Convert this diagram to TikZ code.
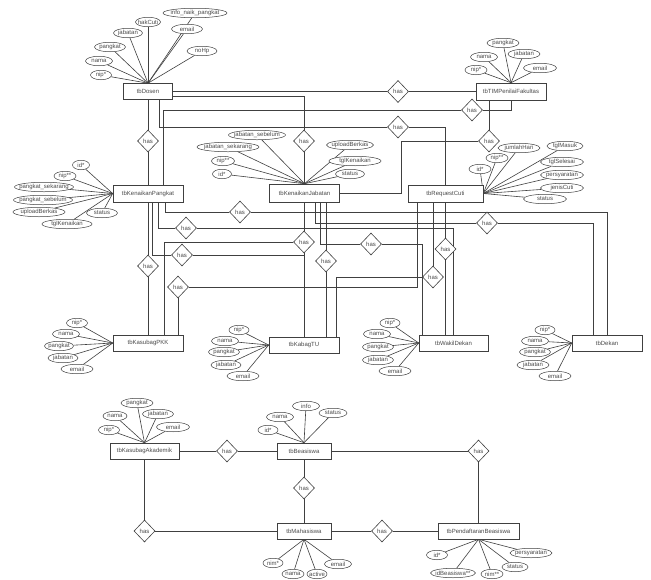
\documentclass[tikz,border=0pt]{standalone}
\usepackage{fontspec}
\setmainfont{Liberation Sans}
\usetikzlibrary{shapes.geometric}
\pgfdeclarelayer{background}
\pgfsetlayers{background,main}
\definecolor{lc}{HTML}{404040}
\definecolor{tc}{HTML}{4A4A4A}
\begin{document}
\begin{tikzpicture}[x=1pt,y=-1pt,
  every node/.style={font=\fontsize{6}{7}\selectfont, text=tc},
  ent/.style={rectangle, draw=lc, line width=0.6pt, inner sep=0pt, fill=white},
  rel/.style={diamond, draw=lc, line width=0.6pt, inner sep=0pt, minimum width=21pt, minimum height=22pt, fill=white},
  attr/.style={ellipse, draw=lc, line width=0.5pt, inner ysep=0pt, inner xsep=-4pt, minimum height=9.5pt, fill=white},
  ln/.style={draw=lc, line width=0.6pt}]
\useasboundingbox (0,0) rectangle (651,579);

% ---------- entities ----------
\node[ent, minimum width=49pt, minimum height=16pt] (tbDosen) at (148,91.5) {tbDosen};
\node[ent, minimum width=70pt, minimum height=17pt] (tbTIM) at (511,91.5) {tbTIMPenilaiFakultas};
\node[ent, minimum width=70pt, minimum height=17pt] (tbKP) at (148,193.5) {tbKenaikanPangkat};
\node[ent, minimum width=70pt, minimum height=18pt] (tbKJ) at (304.5,193) {tbKenaikanJabatan};
\node[ent, minimum width=75pt, minimum height=17pt] (tbRC) at (445.5,193.5) {tbRequestCuti};
\node[ent, minimum width=70pt, minimum height=16pt] (tbPKK) at (148,343) {tbKasubagPKK};
\node[ent, minimum width=70pt, minimum height=16pt] (tbTU) at (304,345) {tbKabagTU};
\node[ent, minimum width=69pt, minimum height=16pt] (tbWD) at (453.5,343) {tbWakilDekan};
\node[ent, minimum width=70pt, minimum height=16pt] (tbDK) at (607,343) {tbDekan};
\node[ent, minimum width=69pt, minimum height=16pt] (tbAK) at (144.5,451) {tbKasubagAkademik};
\node[ent, minimum width=54pt, minimum height=16pt] (tbBS) at (304,451) {tbBeasiswa};
\node[ent, minimum width=54pt, minimum height=16pt] (tbMH) at (304,531) {tbMahasiswa};
\node[ent, minimum width=81pt, minimum height=16pt] (tbPB) at (478.5,531) {tbPendaftaranBeasiswa};

% ---------- relationships ----------
\node[rel] (r1) at (148,141) {has};
\node[rel] (r2) at (398,91.5) {has};
\node[rel] (r3) at (304,141) {has};
\node[rel] (r4) at (472,110) {has};
\node[rel] (r5) at (398,127) {has};
\node[rel] (r6) at (489,141) {has};
\node[rel] (r7) at (148,266) {has};
\node[rel] (r8) at (240,212) {has};
\node[rel] (r9) at (186,228) {has};
\node[rel] (r10) at (182,255) {has};
\node[rel] (r11) at (304,242) {has};
\node[rel] (r12) at (178,287) {has};
\node[rel] (r13) at (433,277) {has};
\node[rel] (r14) at (445.5,249) {has};
\node[rel] (r15) at (371,244) {has};
\node[rel] (r16) at (487,223) {has};
\node[rel] (r17) at (326,261) {has};
\node[rel] (r18) at (227,451) {has};
\node[rel] (r19) at (304,488) {has};
\node[rel] (r20) at (144.5,531) {has};
\node[rel] (r21) at (478.5,451) {has};
\node[rel] (r22) at (382,531) {has};

% ---------- attributes ----------
% tbDosen
\node[attr, minimum width=21pt] (d1) at (101,75) {nip*};
\node[attr, minimum width=27pt] (d2) at (99,61) {nama};
\node[attr, minimum width=31pt] (d3) at (110,47) {pangkat};
\node[attr, minimum width=29pt] (d4) at (128,33) {jabatan};
\node[attr, minimum width=25pt] (d5) at (148,22) {hakCuti};
\node[attr, minimum width=64pt] (d6) at (195,13) {info\_naik\_pangkat};
\node[attr, minimum width=31pt] (d7) at (187,29) {email};
\node[attr, minimum width=30pt] (d8) at (202,51) {noHp};
% tbTIMPenilaiFakultas
\node[attr, minimum width=32pt] (t1) at (503,43) {pangkat};
\node[attr, minimum width=27pt] (t2) at (484,57) {nama};
\node[attr, minimum width=32pt] (t3) at (524,54) {jabatan};
\node[attr, minimum width=22pt] (t4) at (476,70) {nip*};
\node[attr, minimum width=33pt] (t5) at (540,68) {email};
% tbKenaikanPangkat
\node[attr, minimum width=17pt] (k1) at (81,165) {id*};
\node[attr, minimum width=22pt] (k2) at (65,176) {nip**};
\node[attr, minimum width=59pt] (k3) at (44,187) {pangkat\_sekarang};
\node[attr, minimum width=59pt] (k4) at (43,200) {pangkat\_sebelum};
\node[attr, minimum width=52pt] (k5) at (39,212) {uploadBerkas};
\node[attr, minimum width=50pt] (k6) at (67,224) {tglKenaikan};
\node[attr, minimum width=31pt] (k7) at (102,213) {status};
% tbKenaikanJabatan
\node[attr, minimum width=57pt] (j1) at (257,135) {jabatan\_sebelum};
\node[attr, minimum width=62pt] (j2) at (228,147) {jabatan\_sekarang};
\node[attr, minimum width=23pt] (j3) at (223,161) {nip**};
\node[attr, minimum width=19pt] (j4) at (222,174) {id*};
\node[attr, minimum width=47pt] (j5) at (350,145) {uploadBerkas};
\node[attr, minimum width=52pt] (j6) at (355,161) {tglKenaikan};
\node[attr, minimum width=29pt] (j7) at (350,174) {status};
% tbRequestCuti
\node[attr, minimum width=22pt] (c1) at (480,169) {id*};
\node[attr, minimum width=22pt] (c2) at (497,158) {nip**};
\node[attr, minimum width=42pt] (c3) at (519,148) {jumlahHari};
\node[attr, minimum width=36pt] (c4) at (565,146) {tglMasuk};
\node[attr, minimum width=43pt] (c5) at (562,162) {tglSelesai};
\node[attr, minimum width=43pt] (c6) at (562,175) {persyaratan};
\node[attr, minimum width=43pt] (c7) at (562,188) {jenisCuti};
\node[attr, minimum width=43pt] (c8) at (545,199) {status};
% tbKasubagPKK
\node[attr, minimum width=21pt] (p1) at (77,323) {nip*};
\node[attr, minimum width=27pt] (p2) at (66,334) {nama};
\node[attr, minimum width=29pt] (p3) at (59,346) {pangkat};
\node[attr, minimum width=30pt] (p4) at (63,358) {jabatan};
\node[attr, minimum width=32pt] (p5) at (77,369) {email};
% tbKabagTU
\node[attr, minimum width=20pt] (u1) at (239,330) {nip*};
\node[attr, minimum width=27pt] (u2) at (225,341) {nama};
\node[attr, minimum width=31pt] (u3) at (224,352) {pangkat};
\node[attr, minimum width=30pt] (u4) at (226,365) {jabatan};
\node[attr, minimum width=32pt] (u5) at (243,376) {email};
% tbWakilDekan
\node[attr, minimum width=20pt] (w1) at (390,323) {nip*};
\node[attr, minimum width=27pt] (w2) at (377,334) {nama};
\node[attr, minimum width=31pt] (w3) at (378,347) {pangkat};
\node[attr, minimum width=31pt] (w4) at (378,360) {jabatan};
\node[attr, minimum width=32pt] (w5) at (395,371) {email};
% tbDekan
\node[attr, minimum width=20pt] (e1) at (545,330) {nip*};
\node[attr, minimum width=27pt] (e2) at (535,341) {nama};
\node[attr, minimum width=31pt] (e3) at (535,352) {pangkat};
\node[attr, minimum width=32pt] (e4) at (533,365) {jabatan};
\node[attr, minimum width=32pt] (e5) at (555,376) {email};
% tbKasubagAkademik
\node[attr, minimum width=32pt] (a1) at (137,403) {pangkat};
\node[attr, minimum width=24pt] (a2) at (115,416) {nama};
\node[attr, minimum width=31pt] (a3) at (158,414) {jabatan};
\node[attr, minimum width=21pt] (a4) at (109,430) {nip*};
\node[attr, minimum width=33pt] (a5) at (173,427) {email};
% tbBeasiswa
\node[attr, minimum width=27pt] (b1) at (306,406) {info};
\node[attr, minimum width=27pt] (b2) at (280,417) {nama};
\node[attr, minimum width=20pt] (b3) at (268,430) {id*};
\node[attr, minimum width=28pt] (b4) at (333,413) {status};
% tbMahasiswa
\node[attr, minimum width=20pt] (m1) at (273,563) {nim*};
\node[attr, minimum width=22pt] (m2) at (293,574) {nama};
\node[attr, minimum width=20pt] (m3) at (317,574) {active};
\node[attr, minimum width=27pt] (m4) at (338,564) {email};
% tbPendaftaranBeasiswa
\node[attr, minimum width=21pt] (f1) at (437,555) {id*};
\node[attr, minimum width=45pt] (f2) at (453,573) {idBeasiswa**};
\node[attr, minimum width=22pt] (f3) at (492,574) {nim**};
\node[attr, minimum width=26pt] (f4) at (515,567) {status};
\node[attr, minimum width=42pt] (f5) at (531,553) {persyaratan};

\begin{pgfonlayer}{background}
\fill[white] (0,0) rectangle (651,579);
% attribute links
\foreach \i in {1,...,8} \draw[ln] (d\i) -- (tbDosen.north);
\foreach \i in {1,...,5} \draw[ln] (t\i) -- (tbTIM.north);
\foreach \i in {1,...,7} \draw[ln] (k\i) -- (tbKP.west);
\foreach \i in {1,...,7} \draw[ln] (j\i) -- (tbKJ.north);
\foreach \i in {1,...,8} \draw[ln] (c\i) -- (tbRC.east);
\foreach \i in {1,...,5} \draw[ln] (p\i) -- (tbPKK.west);
\foreach \i in {1,...,5} \draw[ln] (u\i) -- (tbTU.west);
\foreach \i in {1,...,5} \draw[ln] (w\i) -- (tbWD.west);
\foreach \i in {1,...,5} \draw[ln] (e\i) -- (tbDK.west);
\foreach \i in {1,...,5} \draw[ln] (a\i) -- (tbAK.north);
\foreach \i in {1,...,4} \draw[ln] (b\i) -- (tbBS.north);
\foreach \i in {1,...,4} \draw[ln] (m\i) -- (tbMH.south);
\foreach \i in {1,...,5} \draw[ln] (f\i) -- (tbPB.south);

% relationship connectors, top part
\draw[ln] (tbDosen) -- (r1) -- (tbKP);
\draw[ln] (tbDosen) -- (r2) -- (tbTIM);
\draw[ln] ([yshift=-4.5pt]tbDosen.east) -| (r3) -- (tbKJ.north -| r3);
\draw[ln] ([xshift=15pt]tbKP.north) |- (r4) -| (tbTIM.south);
\draw[ln] ([xshift=11pt]tbDosen.south) |- (r5) -| (tbRC.north);
\draw[ln] (tbTIM.south -| r6) -- (r6);
\coordinate (c6) at (401,141);
\draw[ln] (r6) -- (c6) |- (tbKJ.east);

% middle part
\draw[ln] (tbKP) -- (r7) -- (tbPKK);
\draw[ln] ([xshift=17pt]tbKP.south) |- (r8) -| (tbDK.north);
\draw[ln] ([xshift=10pt]tbKP.south) |- (r9) -| (tbWD.north);
\draw[ln] ([xshift=4pt]tbKP.south) |- (r10) -| (tbTU.north);
\draw[ln] (tbKJ.south -| r11) -- (r11) -- (tbTU.north -| r11);
\draw[ln] (r11) -| ([xshift=16pt]tbPKK.north);
\draw[ln] ([xshift=-28.5pt]tbRC.south) |- (r12) -- (r12 |- tbPKK.north);
\draw[ln] (tbRC.south -| r13) -- (r13);
\draw[ln] (r13) -| ([xshift=32pt]tbTU.north);
\draw[ln] (tbRC.south -| r14) -- (r14) -- (tbWD.north -| r14);
\draw[ln] ([xshift=15.5pt]tbKJ.south) |- (r15) -| ([xshift=-31.5pt]tbWD.north);
\draw[ln] ([xshift=10.5pt]tbKJ.south) |- (r16) -| ([xshift=-14pt]tbDK.north);
\draw[ln] (tbKJ.south -| r17) -- (r17) -- (tbTU.north -| r17);

% bottom part
\draw[ln] (tbAK) -- (r18) -- (tbBS);
\draw[ln] (tbBS) -- (r19) -- (tbMH);
\draw[ln] (tbAK.south -| r20) -- (r20) -- (tbMH);
\draw[ln] (tbBS) -- (r21) -- (tbPB);
\draw[ln] (tbMH) -- (r22) -- (tbPB);
\end{pgfonlayer}
\end{tikzpicture}
\end{document}
